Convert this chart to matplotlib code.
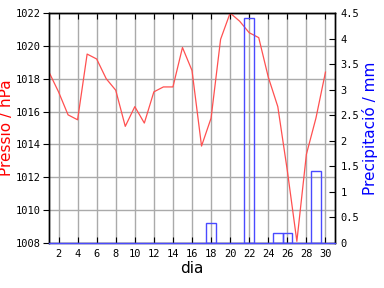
import numpy as np
import matplotlib
matplotlib.use("Agg")
import matplotlib.pyplot as plt

dies = list(range(1, 31))
pressio = [1018.4, 1017.2, 1015.8, 1015.5, 1019.5, 1019.2, 1018.0, 1017.3, 1015.1, 1016.3,
           1015.3, 1017.2, 1017.5, 1017.5, 1019.9, 1018.5, 1013.9, 1015.6, 1020.4, 1022.0,
           1021.5, 1020.8, 1020.5, 1018.1, 1016.3, 1012.4, 1008.1, 1013.4, 1015.6, 1018.4]
precip_dies = [18, 22, 25, 26, 29]
precip = [0.4, 4.4, 0.2, 0.2, 1.4]

fig = plt.figure(figsize=(3.84, 2.88), dpi=100)
ax1 = fig.add_axes([49/384, 45/288, 286/384, 230/288])
ax2 = ax1.twinx()

ax1.plot(dies, pressio, color="#ff5050", lw=0.9, zorder=3)
ax1.set_xlim(1, 31)
ax1.set_ylim(1008, 1022)
ax1.set_xticks(range(2, 31, 2))
ax1.set_yticks(range(1008, 1023, 2))
ax1.grid(True, color="#aaaaaa", lw=1)
ax1.set_axisbelow(True)

ax2.bar(precip_dies, precip, width=1.0, fill=False, edgecolor="#4a4aff", lw=1)
ax2.set_ylim(0, 4.5)
ax2.set_yticks([0, 0.5, 1, 1.5, 2, 2.5, 3, 3.5, 4, 4.5])
ax2.set_yticklabels(["0", "0.5", "1", "1.5", "2", "2.5", "3", "3.5", "4", "4.5"])

mono = {"family": "DejaVu Sans Mono", "size": 7.5}
for lab in ax1.get_xticklabels() + ax1.get_yticklabels() + ax2.get_yticklabels():
    lab.set_fontfamily("DejaVu Sans Mono")
    lab.set_fontsize(7.5)

ax1.tick_params(axis="x", direction="in", length=4, top=True, pad=4)
ax1.tick_params(axis="y", direction="out", length=4, pad=2)
ax2.tick_params(axis="y", direction="in", length=4, pad=4)

for ax in (ax1, ax2):
    for s in ax.spines.values():
        s.set_color("black")
        s.set_linewidth(1)
ax2.spines["bottom"].set_color("#4a4aff")

ax1.set_xlabel("dia", fontsize=11, labelpad=2)
ax1.set_ylabel("Pressió / hPa", color="red", fontsize=11, labelpad=1)
ax2.set_ylabel("Precipitació / mm", color="blue", fontsize=11, labelpad=2)

fig.savefig("out.png", dpi=100)
